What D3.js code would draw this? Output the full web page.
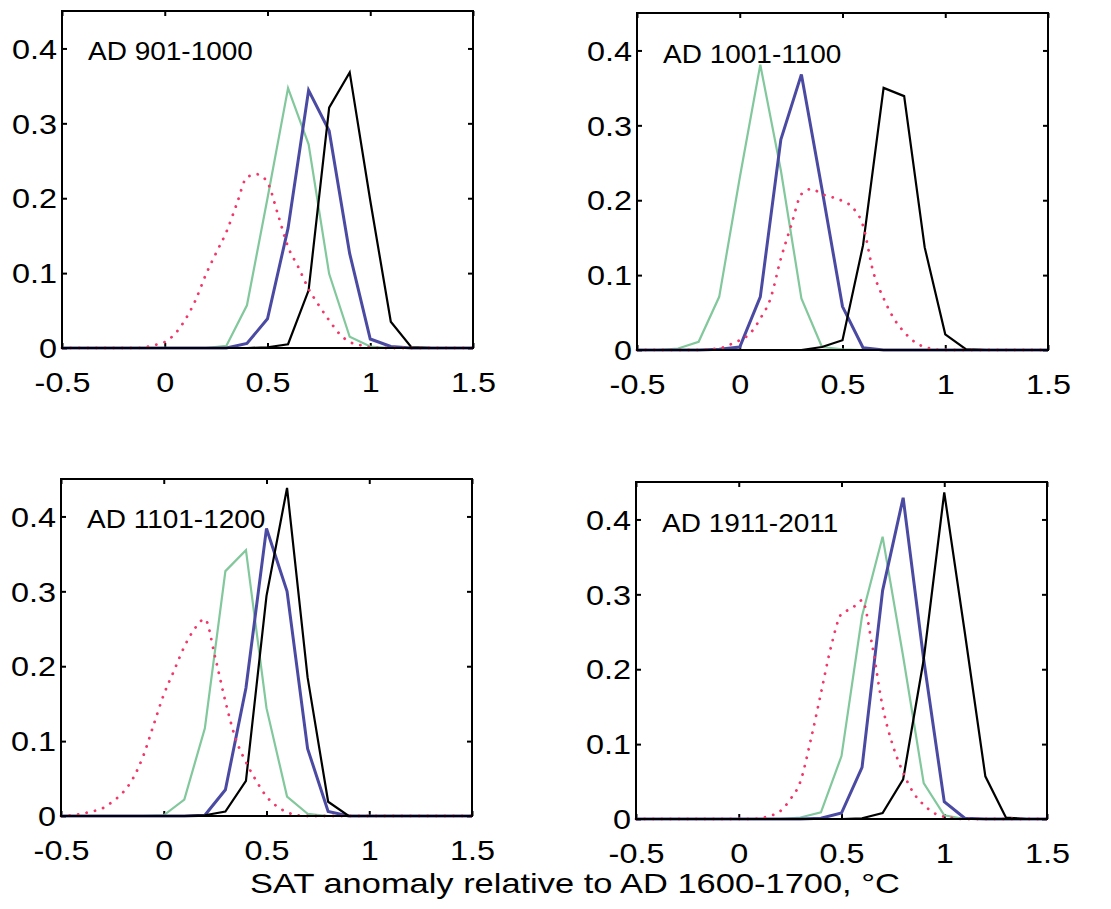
<!DOCTYPE html>
<html>
<head>
<meta charset="utf-8">
<script src="https://cdn.jsdelivr.net/npm/d3@7"></script>
<style>
  body { margin: 0; background: #fff; }
  svg text { font-family: "Liberation Sans", Arial, sans-serif; fill: #000; }
</style>
</head>
<body>
<svg id="chart"></svg>
<script>
/*--------------------------------------------------------------------------------
----- SAT anomaly distributions for four periods (relative to AD 1600-1700)
--------------------------------------------------------------------------------*/

// Tick values and panel titles
const x_ticks = [-0.5, 0, 0.5, 1, 1.5];
const y_ticks = [0, 0.1, 0.2, 0.3, 0.4];
const panel_titles = ["AD 901-1000", "AD 1001-1100", "AD 1101-1200", "AD 1911-2011"];
const x_label = "SAT anomaly relative to AD 1600-1700, \u00B0C";

// Bin centres for the solid lines and for the dotted line
const bin_x = [-0.5, -0.4, -0.3, -0.2, -0.1, 0, 0.1, 0.2, 0.3, 0.4, 0.5,
               0.6, 0.7, 0.8, 0.9, 1.0, 1.1, 1.2, 1.3, 1.4, 1.5];
const dot_x = [-0.5, -0.45, -0.4, -0.35, -0.3, -0.25, -0.2, -0.15, -0.1, -0.05,
               0, 0.05, 0.1, 0.15, 0.2, 0.25, 0.3, 0.35, 0.4, 0.45,
               0.5, 0.55, 0.6, 0.65, 0.7, 0.75, 0.8, 0.85, 0.9, 0.95,
               1.0, 1.05, 1.1, 1.15, 1.2, 1.25, 1.3, 1.35, 1.4, 1.45, 1.5];

// AD 901-1000
const green_901 = [0, 0, 0, 0, 0, 0, 0, 0, 0.003, 0.057, 0.2, 0.347, 0.272, 0.099, 0.015, 0.002, 0, 0, 0, 0, 0];
const blue_901  = [0, 0, 0, 0, 0, 0, 0, 0, 0, 0.006, 0.039, 0.16, 0.344, 0.29, 0.126, 0.012, 0.002, 0, 0, 0, 0];
const black_901 = [0, 0, 0, 0, 0, 0, 0, 0, 0, 0, 0.001, 0.005, 0.077, 0.321, 0.368, 0.197, 0.035, 0.001, 0, 0, 0];
const red_901   = [0, 0, 0, 0, 0, 0, 0, 0, 0.001, 0.004,
                   0.008, 0.019, 0.038, 0.064, 0.098, 0.127, 0.155, 0.192, 0.228, 0.232,
                   0.221, 0.179, 0.135, 0.108, 0.079, 0.057, 0.037, 0.019, 0.008, 0.004,
                   0.001, 0, 0, 0, 0, 0, 0, 0, 0, 0, 0];

// AD 1001-1100
const green_1001 = [0, 0, 0.002, 0.011, 0.071, 0.23, 0.381, 0.24, 0.069, 0.004, 0.001, 0, 0, 0, 0, 0, 0, 0, 0, 0, 0];
const blue_1001  = [0, 0, 0, 0, 0.001, 0.004, 0.071, 0.281, 0.368, 0.215, 0.058, 0.003, 0, 0, 0, 0, 0, 0, 0, 0, 0];
const black_1001 = [0, 0, 0, 0, 0, 0, 0, 0, 0, 0.004, 0.013, 0.14, 0.35, 0.339, 0.137, 0.021, 0.001, 0, 0, 0, 0];
const red_1001   = [0, 0, 0, 0, 0, 0, 0, 0.001, 0.002, 0.007,
                    0.013, 0.022, 0.042, 0.069, 0.122, 0.166, 0.208, 0.215, 0.208, 0.204,
                    0.199, 0.19, 0.166, 0.104, 0.069, 0.042, 0.024, 0.011, 0.004, 0.001,
                    0, 0, 0, 0, 0, 0, 0, 0, 0, 0, 0];

// AD 1101-1200
const green_1101 = [0, 0, 0, 0, 0, 0.001, 0.022, 0.117, 0.327, 0.355, 0.144, 0.026, 0.003, 0, 0, 0, 0, 0, 0, 0, 0];
const blue_1101  = [0, 0, 0, 0, 0, 0, 0, 0.001, 0.035, 0.171, 0.384, 0.3, 0.09, 0.006, 0, 0, 0, 0, 0, 0, 0];
const black_1101 = [0, 0, 0, 0, 0, 0, 0, 0.001, 0.006, 0.047, 0.294, 0.438, 0.185, 0.019, 0, 0, 0, 0, 0, 0, 0];
const red_1101   = [0, 0.001, 0.003, 0.006, 0.01, 0.019, 0.031, 0.05, 0.08, 0.121,
                    0.162, 0.194, 0.226, 0.25, 0.263, 0.212, 0.153, 0.103, 0.072, 0.047,
                    0.026, 0.013, 0.005, 0.001, 0, 0, 0, 0, 0, 0,
                    0, 0, 0, 0, 0, 0, 0, 0, 0, 0, 0];

// AD 1911-2011
const green_1911 = [0, 0, 0, 0, 0, 0, 0, 0, 0.002, 0.009, 0.084, 0.271, 0.377, 0.217, 0.048, 0.005, 0, 0, 0, 0, 0];
const blue_1911  = [0, 0, 0, 0, 0, 0, 0, 0, 0, 0.001, 0.008, 0.069, 0.305, 0.429, 0.213, 0.023, 0.001, 0, 0, 0, 0];
const black_1911 = [0, 0, 0, 0, 0, 0, 0, 0, 0, 0, 0, 0.001, 0.008, 0.053, 0.213, 0.436, 0.249, 0.057, 0.002, 0, 0];
const red_1911   = [0, 0, 0, 0, 0, 0, 0, 0, 0, 0,
                    0, 0, 0.001, 0.004, 0.01, 0.026, 0.05, 0.105, 0.168, 0.231,
                    0.274, 0.281, 0.292, 0.231, 0.15, 0.098, 0.062, 0.035, 0.019, 0.008,
                    0.003, 0.001, 0, 0, 0, 0, 0, 0, 0, 0, 0];

const green_series = [green_901, green_1001, green_1101, green_1911];
const blue_series  = [blue_901, blue_1001, blue_1101, blue_1911];
const black_series = [black_901, black_1001, black_1101, black_1911];
const red_series   = [red_901, red_1001, red_1101, red_1911];

// Figure layout
const fig_width = 1111, fig_height = 909;
const panel_left = [62, 637, 61, 636];
const panel_top = [11, 13, 479, 482];
const panel_width = 411, panel_height = 337;
const text_stretch = 1.2;

const svg = d3.select("#chart")
    .attr("width", fig_width)
    .attr("height", fig_height);

svg.append("rect")
    .attr("width", fig_width)
    .attr("height", fig_height)
    .attr("fill", "#fff");

// Shared scales (every panel uses the same domain)
const x_scale = d3.scaleLinear().domain([-0.5, 1.5]).range([0, panel_width]);
const y_scale = d3.scaleLinear().domain([0, 0.45]).range([panel_height, 0]);

// Plain hyphen for negatives, like the original
const tick_text = d => String(d);

// Build one line generator per x grid
const solid_line = d3.line()
    .x((d, i) => x_scale(bin_x[i]))
    .y(d => y_scale(d));
const dotted_line = d3.line()
    .x((d, i) => x_scale(dot_x[i]))
    .y(d => y_scale(d))
    .curve(d3.curveMonotoneX);

for (let p = 0; p < 4; p++) {
    const g = svg.append("g")
        .attr("transform", `translate(${panel_left[p]},${panel_top[p]})`);

    // Inward ticks on all four sides
    const add_axis = (axis, transform) => {
        const a = g.append("g").attr("transform", transform).call(axis);
        a.select(".domain").remove();
        a.selectAll("line").attr("stroke", "#000").attr("stroke-width", 2);
        return a;
    };
    const bottom = add_axis(d3.axisBottom(x_scale).tickValues(x_ticks).tickSize(-5).tickFormat(tick_text),
        `translate(0,${panel_height})`);
    const left = add_axis(d3.axisLeft(y_scale).tickValues(y_ticks).tickSize(-5).tickFormat(tick_text),
        "translate(0,0)");
    add_axis(d3.axisTop(x_scale).tickValues(x_ticks).tickSize(-5).tickFormat(""), "translate(0,0)");
    add_axis(d3.axisRight(y_scale).tickValues(y_ticks).tickSize(-5).tickFormat(""), `translate(${panel_width},0)`);

    // Tick labels, widened like the scanned original
    bottom.selectAll("text")
        .attr("x", 0).attr("y", 0).attr("dy", null)
        .attr("transform", `translate(0,44) scale(${text_stretch},1)`)
        .attr("text-anchor", "middle")
        .style("font-size", "27px")
        .style("font-family", "'Liberation Sans', Arial, sans-serif")
        .attr("fill", "#000");
    left.selectAll("text")
        .attr("x", 0).attr("y", 0).attr("dy", "0.36em")
        .attr("transform", `translate(-5,0) scale(${text_stretch},1)`)
        .attr("text-anchor", "end")
        .style("font-size", "27px")
        .style("font-family", "'Liberation Sans', Arial, sans-serif")
        .attr("fill", "#000");

    // Distribution lines: green, blue, black, then the dotted red one on top
    g.append("path")
        .datum(green_series[p])
        .attr("d", solid_line)
        .attr("fill", "none")
        .attr("stroke", "#82c89c")
        .attr("stroke-width", 2.2);
    g.append("path")
        .datum(blue_series[p])
        .attr("d", solid_line)
        .attr("fill", "none")
        .attr("stroke", "#4b4aa3")
        .attr("stroke-width", 3);
    g.append("path")
        .datum(black_series[p])
        .attr("d", solid_line)
        .attr("fill", "none")
        .attr("stroke", "#000")
        .attr("stroke-width", 2.2);
    g.append("path")
        .datum(red_series[p])
        .attr("d", dotted_line)
        .attr("fill", "none")
        .attr("stroke", "#f2376a")
        .attr("stroke-width", 2.8)
        .attr("stroke-linecap", "round")
        .attr("stroke-dasharray", "0.1 8.5");

    // Panel frame
    g.append("rect")
        .attr("width", panel_width)
        .attr("height", panel_height)
        .attr("fill", "none")
        .attr("stroke", "#000")
        .attr("stroke-width", 2);

    // Panel title
    g.append("text")
        .attr("transform", `translate(26,${p % 2 === 0 ? 49 : 50}) scale(1.12,1)`)
        .style("font-size", "25px")
        .text(panel_titles[p]);
}

// Shared x-axis label
svg.append("text")
    .attr("transform", `translate(575,893) scale(1.23,1)`)
    .attr("text-anchor", "middle")
    .style("font-size", "28px")
    .text(x_label);
</script>
</body>
</html>
